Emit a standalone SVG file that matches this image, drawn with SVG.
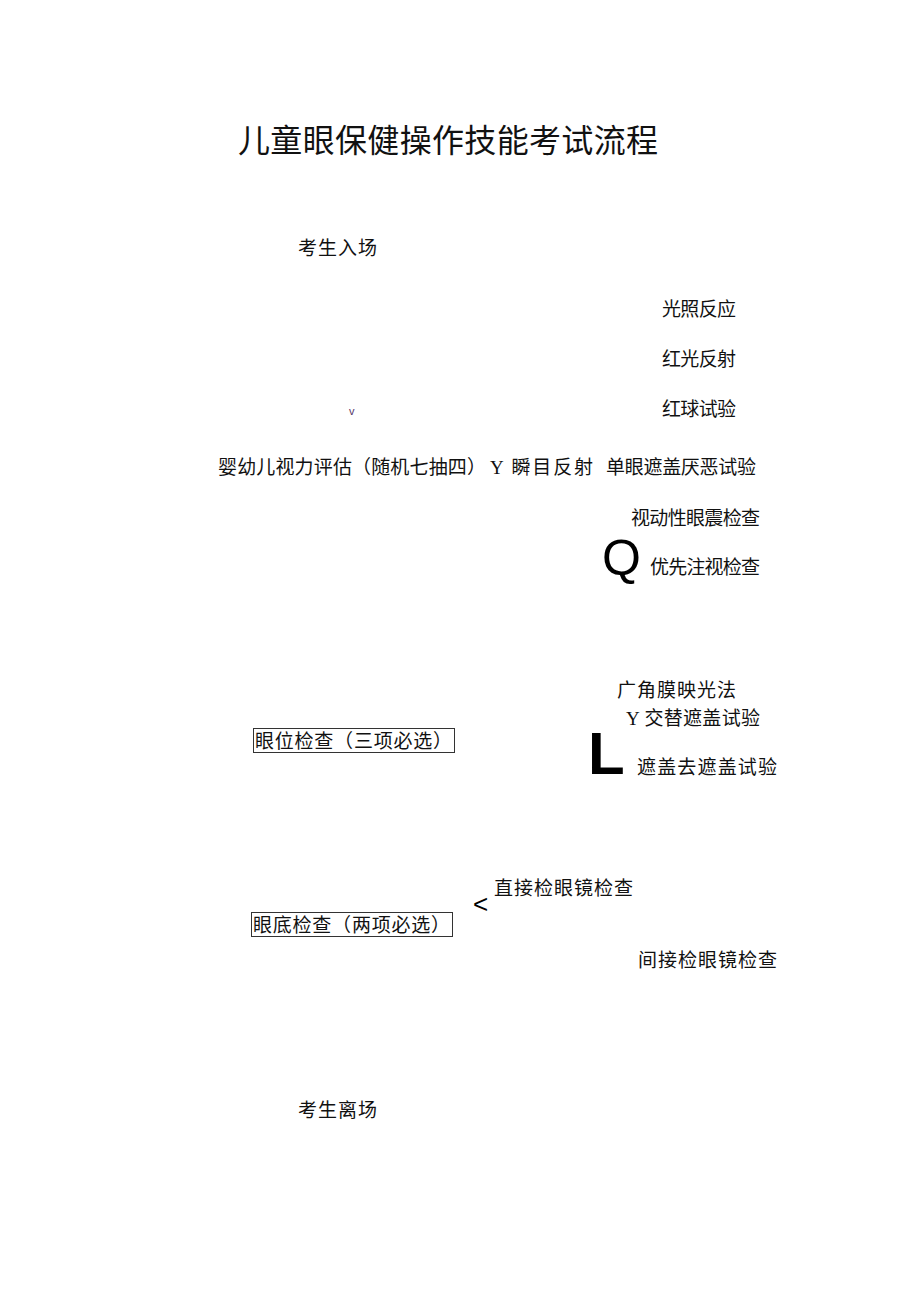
<svg xmlns="http://www.w3.org/2000/svg" width="920" height="1301" viewBox="0 0 920 1301">
<style>
text{font-family:"Liberation Serif","Noto Sans CJK SC",serif;fill:#111}
.t{font-size:19px}
.big{font-family:"Liberation Sans","Noto Sans CJK SC",sans-serif;fill:#000}
.box{fill:none;stroke:#333;stroke-width:1}
</style>
<rect width="920" height="1301" fill="#fff"/>
<g id="title"><text x="238" y="152" style="font-size:32px" textLength="420">儿童眼保健操作技能考试流程</text></g>
<g id="enter"><text class="t" x="298" y="255" textLength="79">考生入场</text></g>
<g id="light"><text class="t" x="662" y="316" textLength="74">光照反应</text></g>
<g id="redreflex"><text class="t" x="662" y="366" textLength="74">红光反射</text></g>
<g id="redball"><text class="t" x="662" y="416" textLength="74">红球试验</text></g>
<g id="vision"><text class="t" x="218" y="474" textLength="268">婴幼儿视力评估（随机七抽四）</text></g>
<g id="blink"><text class="t" x="490" y="474" textLength="103">Y 瞬目反射</text></g>
<g id="cover"><text class="t" x="606" y="474" textLength="150">单眼遮盖厌恶试验</text></g>
<g id="okn"><text class="t" x="631" y="525" textLength="129">视动性眼震检查</text></g>
<g id="pref"><text class="t" x="650" y="574" textLength="110">优先注视检查</text></g>
<g id="hirsch"><text class="t" x="617" y="697" textLength="119">广角膜映光法</text></g>
<g id="alt"><text class="t" x="626" y="725" textLength="134">Y 交替遮盖试验</text></g>
<g id="eyepos"><rect class="box" x="253.5" y="728.5" width="201" height="24"/><text class="t" x="255" y="748" textLength="197">眼位检查（三项必选）</text></g>
<g id="uncover"><text class="t" x="637" y="774" textLength="140">遮盖去遮盖试验</text></g>
<g id="direct"><text class="t" x="494" y="895" textLength="139">直接检眼镜检查</text></g>
<g id="fundus"><rect class="box" x="251.5" y="912.5" width="201" height="24"/><text class="t" x="253" y="932" textLength="197">眼底检查（两项必选）</text></g>
<g id="indirect"><text class="t" x="638" y="967" textLength="139">间接检眼镜检查</text></g>
<g id="leave"><text class="t" x="298" y="1117" textLength="79">考生离场</text></g>
<g id="connectors">
<text class="big" x="349" y="415" style="font-size:11px;fill:#553366">v</text>
<text class="big" x="602" y="575" style="font-size:50px">Q</text>
<text class="big" x="588" y="774" style="font-size:60px;font-weight:bold">L</text>
<text class="big" x="473" y="913" style="font-size:26px">&lt;</text>
</g>
</svg>
